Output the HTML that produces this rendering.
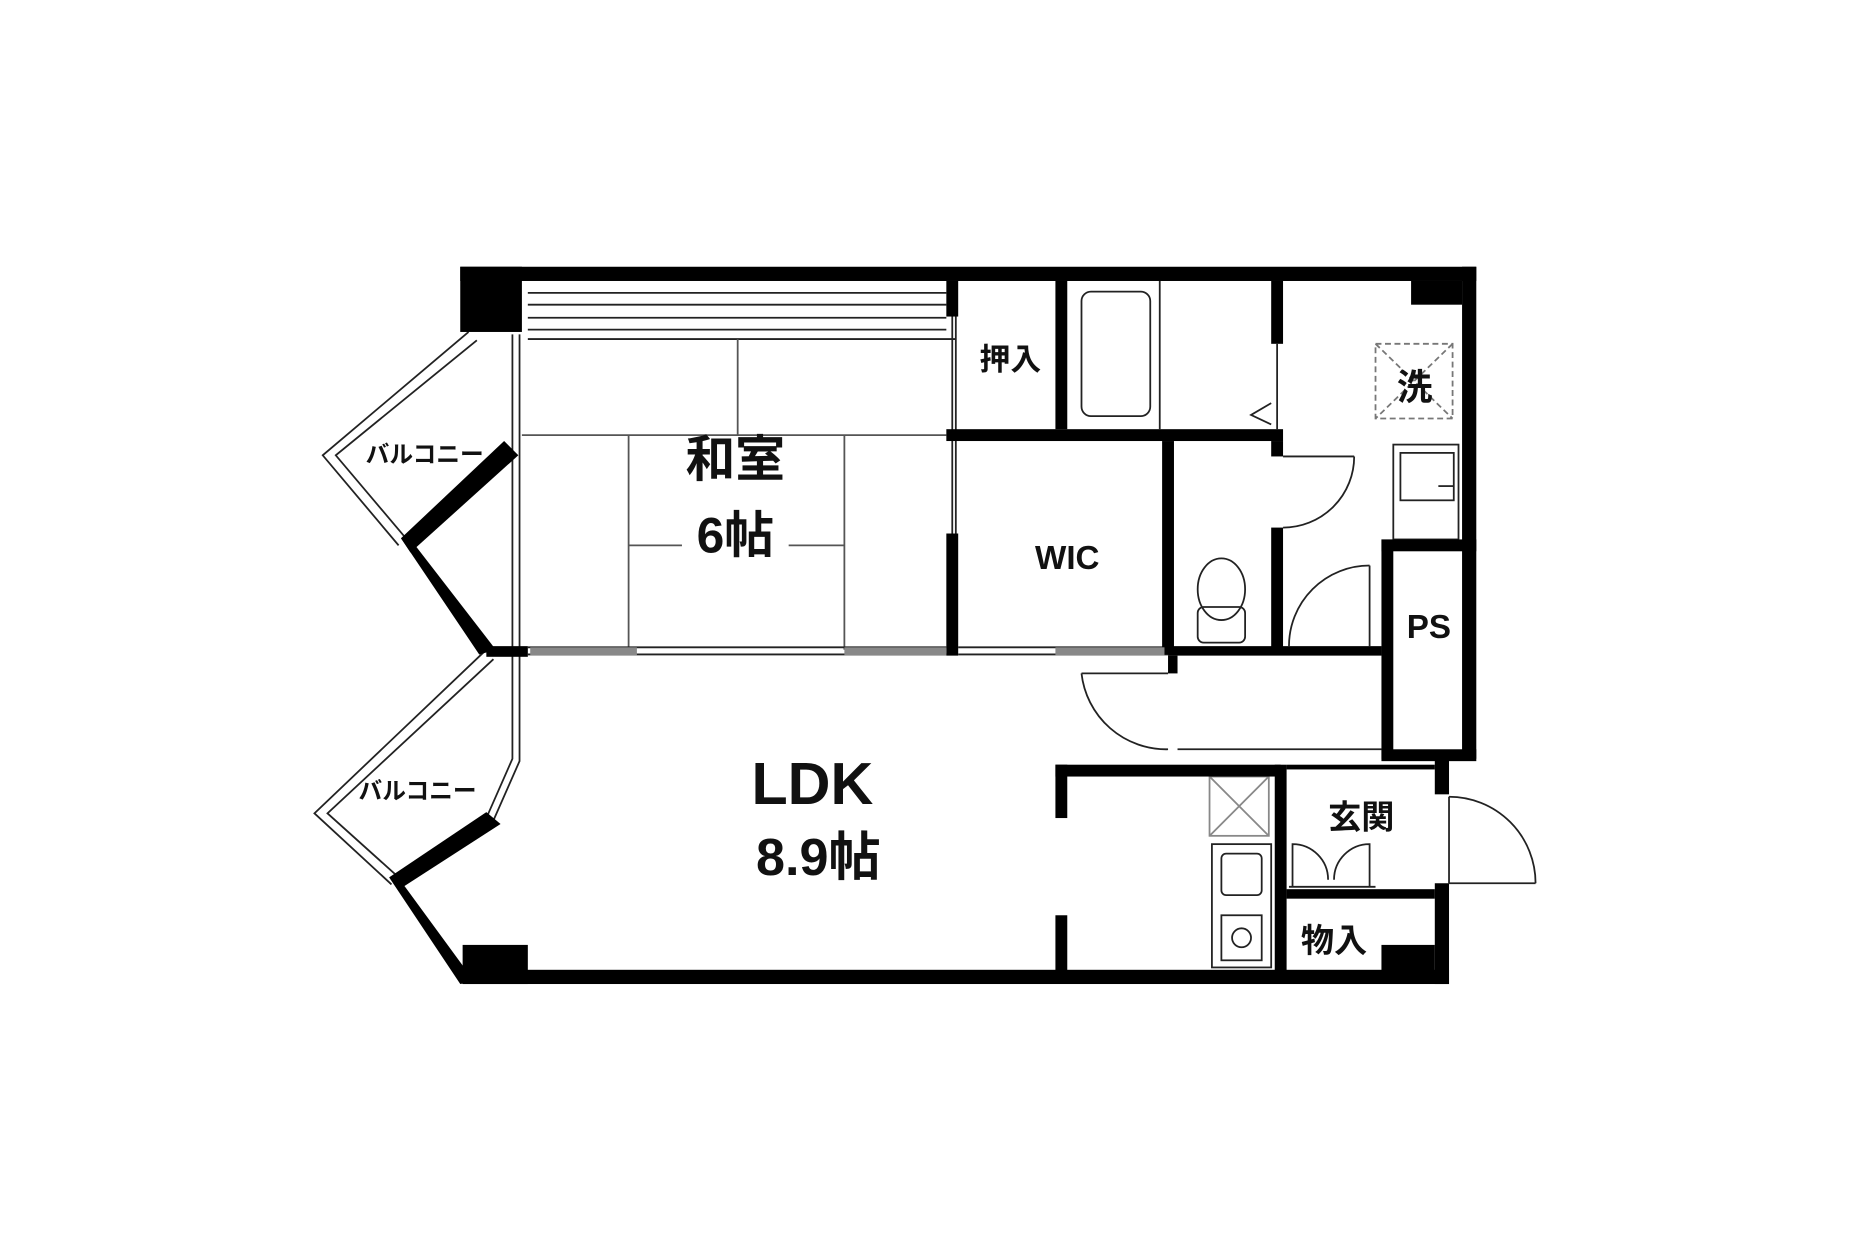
<!DOCTYPE html>
<html><head><meta charset="utf-8"><style>
html,body{margin:0;padding:0;background:#fff;}
svg{display:block;}
text{font-family:"Liberation Sans","Noto Sans CJK JP",sans-serif;fill:#111;text-anchor:middle;font-weight:bold;}
</style></head><body>
<svg width="1850" height="1233" viewBox="0 0 1560 1040" xmlns="http://www.w3.org/2000/svg">
<rect width="1560" height="1040" fill="#fff"/>
<g fill="none" stroke="#222" stroke-width="1.5">
<polyline points="395,280 272,384 336,460"/>
<polyline points="402,287 283,384 343,455"/>
<polyline points="410,548 265,686 330,746"/>
<polyline points="416,556 276,686 336,740"/>
<line x1="432" y1="282" x2="432" y2="548"/><line x1="438" y1="282" x2="438" y2="548"/>
<polyline points="432,553 432,640 410,690"/><polyline points="438,553 438,642 416,692"/>
<line x1="445" y1="247" x2="798" y2="247"/><line x1="445" y1="257" x2="798" y2="257"/>
<line x1="445" y1="268" x2="798" y2="268"/><line x1="445" y1="278" x2="798" y2="278"/>
<line x1="445" y1="286" x2="806" y2="286"/>
<line x1="440" y1="367" x2="798" y2="367" stroke="#555"/>
<line x1="622" y1="286" x2="622" y2="367" stroke="#555"/>
<line x1="530" y1="367" x2="530" y2="548" stroke="#555"/>
<line x1="712" y1="367" x2="712" y2="548" stroke="#555"/>
<line x1="530" y1="460" x2="575" y2="460" stroke="#555"/><line x1="665" y1="460" x2="712" y2="460" stroke="#555"/>
<line x1="445" y1="546" x2="798" y2="546"/><line x1="445" y1="552" x2="798" y2="552"/>
<line x1="808" y1="546" x2="985" y2="546"/><line x1="808" y1="552" x2="985" y2="552"/>
<line x1="803" y1="265" x2="803" y2="450"/><line x1="806" y1="265" x2="806" y2="450"/>
<rect x="912" y="246" width="58" height="105" rx="8"/>
<line x1="978" y1="237" x2="978" y2="362"/>
<line x1="1077" y1="290" x2="1077" y2="362"/>
<polyline points="1072,340 1055,350 1072,358"/>
<line x1="1082" y1="385" x2="1142" y2="385"/><path d="M1142,385 A60,60 0 0 1 1082,445"/>
<line x1="1155" y1="477" x2="1155" y2="545"/><path d="M1155,477 A68,68 0 0 0 1087,545"/>
<line x1="985" y1="568" x2="912" y2="568"/><path d="M912,568 A72,72 0 0 0 985,632"/>
<line x1="1222" y1="672" x2="1222" y2="745"/><path d="M1222,672 A73,73 0 0 1 1295,745"/>
<line x1="1222" y1="745" x2="1295" y2="745"/>
<ellipse cx="1030" cy="497" rx="20" ry="26"/><rect x="1010" y="512" width="40" height="30" rx="5"/>
<rect x="1175" y="375" width="55" height="80"/><rect x="1181" y="382" width="45" height="40"/>
<line x1="1213" y1="410" x2="1226" y2="410"/>
<rect x="1160" y="290" width="65" height="63" stroke-dasharray="5,3" stroke="#777"/>
<line x1="1160" y1="290" x2="1225" y2="353" stroke="#777" stroke-dasharray="5,3"/>
<line x1="1225" y1="290" x2="1160" y2="353" stroke="#777" stroke-dasharray="5,3"/>
<rect x="1020" y="655" width="50" height="50" stroke="#888"/>
<line x1="1020" y1="655" x2="1070" y2="705" stroke="#888"/><line x1="1070" y1="655" x2="1020" y2="705" stroke="#888"/>
<rect x="1022" y="712" width="50" height="104"/><rect x="1030" y="720" width="34" height="35" rx="4"/>
<rect x="1030" y="772" width="34" height="38"/><circle cx="1047" cy="791" r="8"/>
<path d="M1090,748 L1090,712 A30,30 0 0 1 1120,742"/><path d="M1155,748 L1155,712 A30,30 0 0 0 1125,742"/>
<line x1="1087" y1="748" x2="1160" y2="748"/>
<line x1="993" y1="632" x2="1165" y2="632"/>
</g>
<g fill="#000">
<rect x="388" y="225" width="857" height="12"/>
<rect x="388" y="225" width="52" height="55"/>
<rect x="1233" y="225" width="12" height="415"/>
<rect x="1190" y="237" width="43" height="20"/>
<rect x="1165" y="455" width="80" height="10"/>
<rect x="1165" y="455" width="10" height="185"/>
<rect x="1165" y="632" width="80" height="10"/>
<rect x="1210" y="640" width="12" height="30"/>
<rect x="1210" y="745" width="12" height="85"/>
<rect x="390" y="818" width="832" height="12"/>
<rect x="390" y="797" width="55" height="33"/>
<polygon points="425,372 437,384 346,466 338,454"/>
<polygon points="338,454 350,460 418,548 404,552"/>
<polygon points="410,685 422,695 340,748 328,740"/>
<polygon points="328,740 340,746 400,828 388,830"/>
<rect x="798" y="237" width="10" height="30"/>
<rect x="798" y="450" width="10" height="103"/>
<rect x="890" y="237" width="10" height="125"/>
<rect x="798" y="362" width="284" height="10"/>
<rect x="1072" y="237" width="10" height="53"/>
<rect x="980" y="372" width="10" height="180"/>
<rect x="1072" y="372" width="10" height="13"/>
<rect x="1072" y="445" width="10" height="107"/>
<rect x="410" y="545" width="35" height="9"/>
<rect x="447" y="546" width="90" height="7" fill="#888"/>
<rect x="712" y="546" width="86" height="7" fill="#888"/>
<rect x="890" y="546" width="92" height="7" fill="#888"/>
<rect x="985" y="545" width="180" height="8"/>
<rect x="985" y="553" width="8" height="15"/>
<rect x="890" y="645" width="190" height="10"/>
<rect x="890" y="645" width="10" height="45"/>
<rect x="890" y="772" width="10" height="50"/>
<rect x="1075" y="645" width="10" height="175"/>
<rect x="1085" y="750" width="125" height="8"/>
<rect x="1085" y="645" width="125" height="4"/>
<rect x="1165" y="797" width="45" height="25"/>
</g>
<text x="620" y="402" font-size="42">和室</text>
<text x="620" y="466" font-size="42">6帖</text>
<text x="900" y="480" font-size="28">WIC</text>
<text x="852" y="312" font-size="26">押入</text>
<text x="1193" y="337" font-size="30">洗</text>
<text x="1205" y="538" font-size="28">PS</text>
<text x="685" y="678" font-size="50">LDK</text>
<text x="690" y="738" font-size="44">8.9帖</text>
<text x="1148" y="699" font-size="28">玄関</text>
<text x="1125" y="803" font-size="28">物入</text>
<text x="358" y="390" font-size="20" font-weight="normal">バルコニー</text>
<text x="352" y="674" font-size="20" font-weight="normal">バルコニー</text>
</svg>
</body></html>
